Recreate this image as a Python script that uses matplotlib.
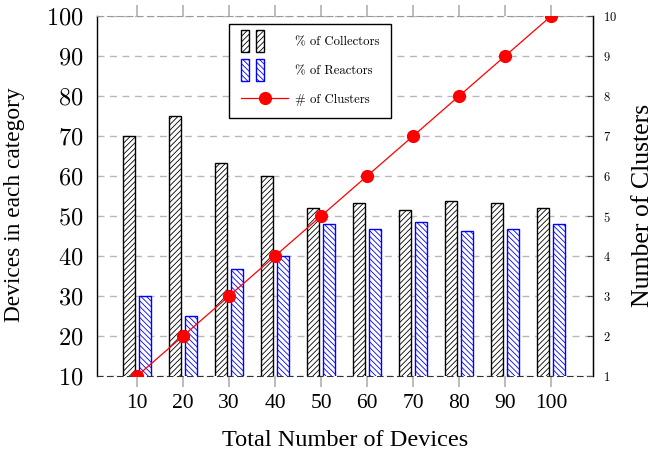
import matplotlib
matplotlib.use("Agg")
import matplotlib.pyplot as plt
import numpy as np
from matplotlib.patches import Rectangle
from matplotlib.lines import Line2D
from matplotlib.legend_handler import HandlerBase

plt.rcParams['axes.formatter.use_mathtext'] = True
plt.rcParams['hatch.linewidth'] = 0.6

devices = ["10", "20", "30", "40", "50", "60", "70", "80", "90", "100"]
collectors = [70, 75, 63.3, 60, 52, 53.3, 51.4, 53.8, 53.3, 52]
reactors = [30, 25, 36.7, 40, 48, 46.7, 48.6, 46.2, 46.7, 48]
clusters = [1, 2, 3, 4, 5, 6, 7, 8, 9, 10]
left_ticks = [10, 20, 30, 40, 50, 60, 70, 80, 90, 100]
right_ticks = [1, 2, 3, 4, 5, 6, 7, 8, 9, 10]

fig = plt.figure(figsize=(6.54, 4.54), dpi=100)
ax = fig.add_axes([97/654, 1-376/454, 496/654, 360/454])
x = np.arange(len(devices))
w = 0.25
off = 0.175

ax.bar(x - off, collectors, w, bottom=0, facecolor='white', edgecolor='black',
       hatch='//////', linewidth=1.0, zorder=3)
ax.bar(x + off, reactors, w, bottom=0, facecolor='white', edgecolor='blue',
       hatch='\\\\\\\\\\\\', linewidth=1.0, zorder=3)
ax.set_ylim(10, 100)
ax.set_xlim(-0.87, 9.91)
ax.set_yticks(left_ticks)
ax.set_xticks(x)
ax.set_xticklabels(devices)
cm = 'cmr10'
for t in ax.get_yticklabels():
    t.set_fontfamily(cm); t.set_fontsize(17.5)
for t in ax.get_xticklabels():
    t.set_fontfamily(['Liberation Serif']); t.set_fontsize(15.5)
ax.tick_params(axis='y', length=0, pad=10)
ax.tick_params(axis='x', direction='out', length=8, color='#b0b0b0', width=1.2,
               top=True, bottom=True, pad=5)
ax.yaxis.grid(True, linestyle=(0, (5, 4)), color='#b8b8b8', linewidth=1.0, zorder=0)
ax.set_axisbelow(True)
ax.spines['top'].set_linestyle((0, (5, 4)))
ax.spines['top'].set_color('#999999')
ax.spines['bottom'].set_linestyle((0, (5, 4)))
ax.spines['bottom'].set_color('#333333')
ax.spines['left'].set_linewidth(1.0)
ax.spines['right'].set_linewidth(1.0)
ax.set_xlabel('Total Number of Devices', fontfamily='Liberation Serif', fontsize=17.5, labelpad=12)
ax.set_ylabel('Devices in each category', fontfamily='Liberation Serif', fontsize=16.8)
ax.yaxis.set_label_coords(-0.145, 0.475)

ax2 = ax.twinx()
ax2.plot(x, clusters, color='red', linewidth=0.9, marker='o', markersize=8.5, zorder=5)
ax2.set_ylim(1, 10)
ax2.set_yticks(right_ticks)
for t in ax2.get_yticklabels():
    t.set_fontfamily(cm); t.set_fontsize(9)
ax2.tick_params(axis='y', direction='in', length=4, color='#555555', pad=7)
for s in ['top', 'bottom', 'left']:
    ax2.spines[s].set_visible(False)
ax2.set_ylabel('Number of Clusters', fontfamily='Liberation Serif', fontsize=18.5)
ax2.yaxis.set_label_coords(1.079, 0.475)


class TwoBars(HandlerBase):
    def __init__(self, ec, hatch):
        super().__init__()
        self.ec = ec
        self.hatch = hatch

    def create_artists(self, legend, orig_handle, xdescent, ydescent, width, height,
                       fontsize, trans):
        arts = []
        px = 0.72
        for x0 in (0, 15):
            r = Rectangle((-xdescent + x0 * px, -ydescent + height / 2 - 11 * px), 8 * px, 22 * px,
                          facecolor='white', edgecolor=self.ec, hatch=self.hatch,
                          linewidth=1.0, transform=trans)
            arts.append(r)
        return arts


h1 = Rectangle((0, 0), 1, 1)
h2 = Rectangle((0, 0), 1, 1)
h3 = Line2D([], [], color='red', marker='o', markersize=8.5, linewidth=0.9)
leg = ax2.legend([h1, h2, h3], ['% of Collectors', '% of Reactors', '# of Clusters'],
                 handler_map={h1: TwoBars('black', '//////'), h2: TwoBars('blue', '\\\\\\\\\\\\')},
                 loc='upper left', bbox_to_anchor=((229-97)/496, (376-24)/360),
                 fancybox=False, edgecolor='black', framealpha=1,
                 prop={'family': cm, 'size': 9.2}, handlelength=3.7, handletextpad=0.5,
                 labelspacing=1.3, borderpad=0.95, numpoints=1, borderaxespad=0)
leg.get_frame().set_linewidth(1.0)

fig.savefig('out.png', dpi=100)
